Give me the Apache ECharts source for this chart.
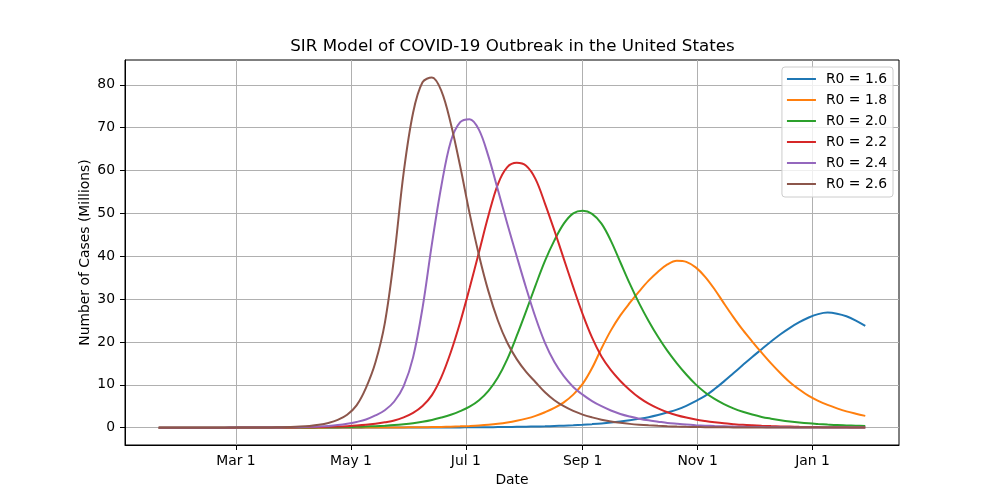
<!DOCTYPE html>
<html><head><meta charset="utf-8">
<script src="https://cdn.jsdelivr.net/npm/echarts@6/dist/echarts.min.js"></script>
<style>html,body{margin:0;padding:0;background:#fff}#chart{width:1000px;height:500px}</style>
</head><body><div id="chart"></div>
<script>
// ---- data (millions of active cases, sampled every 5 days from 2020-01-20) ----
const startDate = '2020-01-20';
const stepDays = 5;
const seriesNames = ['R0 = 1.6', 'R0 = 1.8', 'R0 = 2.0', 'R0 = 2.2', 'R0 = 2.4', 'R0 = 2.6'];
const r16 = [0,0,0,0,0,0,0,0,0,0,
  0,0,0,0,0,0,0,0,0,0,
  0,0,0.01,0.012,0.014,0.017,0.02,0.025,0.03,0.035,
  0.04,0.05,0.06,0.075,0.09,0.11,0.13,0.15,0.19,0.22,
  0.27,0.32,0.39,0.47,0.56,0.68,0.82,0.98,1.18,1.42,
  1.7,2.05,2.45,2.95,3.55,4.2,5.1,6.2,7.4,9.0,
  10.8,12.7,14.6,16.5,18.3,20.1,21.8,23.3,24.6,25.7,
  26.5,26.85,26.6,26.0,25.0,23.75];
const r18 = [0,0,0,0,0,0,0,0,0,0,
  0,0,0,0,0,0,0,0,0.005,0.008,
  0.01,0.015,0.02,0.025,0.034,0.045,0.058,0.076,0.1,0.13,
  0.17,0.23,0.3,0.4,0.52,0.68,0.9,1.2,1.6,2.1,
  2.75,3.6,4.6,5.9,7.7,10.2,13.9,18.5,22.7,26.2,
  29.1,31.8,34.3,36.4,38.1,38.95,38.7,37.4,35.2,32.3,
  29.0,25.8,22.8,20.1,17.5,15.0,12.7,10.6,8.9,7.4,
  6.25,5.3,4.5,3.8,3.25,2.75];
const r20 = [0,0,0,0,0,0,0,0,0,0.01,
  0.01,0.012,0.016,0.02,0.03,0.04,0.05,0.065,0.085,0.11,
  0.15,0.2,0.26,0.35,0.46,0.6,0.8,1.05,1.38,1.8,
  2.35,3.0,3.85,4.9,6.4,8.6,11.7,16.0,21.4,27.2,
  33.2,38.9,43.7,47.6,50.0,50.6,49.9,47.6,43.6,38.6,
  33.6,29.0,24.9,21.2,17.9,15.0,12.4,10.1,8.2,6.7,
  5.5,4.5,3.7,3.05,2.5,2.1,1.75,1.45,1.2,1.0,
  0.85,0.72,0.6,0.52,0.44,0.38];
const r22 = [0,0,0,0,0,0,0,0,0,0.01,
  0.01,0.02,0.025,0.035,0.05,0.07,0.095,0.13,0.18,0.25,
  0.35,0.48,0.66,0.92,1.25,1.66,2.4,3.45,5.05,7.6,
  11.8,17.6,24.6,32.6,41.0,49.5,56.8,60.8,61.8,61.1,
  58.0,52.3,46.0,39.4,32.8,26.5,21.0,16.6,13.4,10.9,
  8.8,7.0,5.6,4.5,3.6,2.9,2.35,1.9,1.55,1.25,
  1.0,0.82,0.66,0.54,0.44,0.36,0.29,0.24,0.19,0.16,
  0.13,0.1,0.08,0.07,0.05,0.04];
const r24 = [0,0,0,0,0,0,0,0,0.01,0.01,
  0.015,0.02,0.035,0.05,0.08,0.12,0.18,0.27,0.4,0.6,
  0.9,1.33,1.9,2.85,4.05,6.1,9.7,16.4,27.9,42.9,
  56.4,66.8,71.3,72.0,69.5,63.3,55.5,47.6,40.0,32.6,
  25.7,19.8,15.3,12.0,9.5,7.7,6.2,5.0,4.0,3.2,
  2.6,2.1,1.7,1.4,1.1,0.9,0.72,0.58,0.47,0.38,
  0.31,0.25,0.2,0.16,0.13,0.1,0.08,0.07,0.05,0.04,
  0.03,0.03,0.02,0.02,0.01,0.01];
const r26 = [0,0,0,0,0,0,0,0,0.01,0.01,
  0.02,0.03,0.05,0.09,0.15,0.25,0.41,0.67,1.1,1.8,
  3.0,5.2,9.3,15.2,24.4,40,59.5,73.5,80.6,81.7,
  78.6,71.0,61.0,50.0,40.2,31.8,25.0,19.8,16.0,13.0,
  10.6,8.25,6.4,5.0,3.9,3.05,2.4,1.85,1.45,1.13,
  0.88,0.69,0.54,0.42,0.33,0.26,0.2,0.16,0.12,0.1,
  0.08,0.06,0.05,0.04,0.03,0.03,0.02,0.02,0.01,0.01,
  0.01,0.01,0.01,0.01,0.01,0.01];
const xTickDates = ['2020-03-01', '2020-05-01', '2020-07-01', '2020-09-01', '2020-11-01', '2021-01-01'];
const xTickLabels = ['Mar 1', 'May 1', 'Jul 1', 'Sep 1', 'Nov 1', 'Jan 1'];
const yTicks = [0, 10, 20, 30, 40, 50, 60, 70, 80];
const colors = ['#1f77b4', '#ff7f0e', '#2ca02c', '#d62728', '#9467bd', '#8c564b'];

// ---- build (x measured in days since startDate) ----
const DAY = 86400000;
const t0 = Date.parse(startDate + 'T00:00:00Z');
const allSeries = [r16, r18, r20, r22, r24, r26];
const xs = r16.map((_, i) => i * stepDays);
const tickDays = xTickDates.map(s => Math.round((Date.parse(s + 'T00:00:00Z') - t0) / DAY));
const pad = 17.9;
const xMin = xs[0] - pad, xMax = xs[xs.length - 1] + pad;
const FONT = 'DejaVu Sans';

const chart = echarts.init(document.getElementById('chart'), null, {renderer: 'canvas'});
chart.setOption({
  animation: false,
  backgroundColor: '#ffffff',
  color: colors,
  title: {
    text: 'SIR Model of COVID-19 Outbreak in the United States',
    left: 512.5, textAlign: 'center', top: 38, padding: 0,
    textStyle: {fontFamily: FONT, fontSize: 16.7, fontWeight: 'normal', color: '#000'}
  },
  grid: {left: 125, right: 101, top: 60, bottom: 55, show: true, borderColor: '#000', borderWidth: 1, backgroundColor: 'transparent'},
  legend: {
    orient: 'vertical', right: 107, top: 67,
    padding: [4, 6, 5, 5], itemGap: 5, itemWidth: 29, itemHeight: 2, icon: 'rect',
    backgroundColor: 'rgba(255,255,255,0.8)', borderColor: '#cccccc', borderWidth: 1, borderRadius: 3,
    textStyle: {fontFamily: FONT, fontSize: 13.9, color: '#000', lineHeight: 16, padding: [0, 0, 0, 5]},
    data: seriesNames
  },
  xAxis: {
    type: 'value', min: xMin, max: xMax,
    name: 'Date', nameLocation: 'middle', nameGap: 28,
    nameTextStyle: {fontFamily: FONT, fontSize: 13.9, color: '#000'},
    axisLine: {show: true, onZero: false, lineStyle: {color: '#000', width: 1}},
    axisTick: {show: true, length: 5, inside: false, customValues: tickDays, lineStyle: {color: '#000', width: 1}},
    axisLabel: {
      customValues: tickDays, margin: 9, fontFamily: FONT, fontSize: 13.9, color: '#000',
      formatter: function (v) { const i = tickDays.indexOf(Math.round(v)); return i >= 0 ? xTickLabels[i] : ''; }
    },
    splitLine: {show: true, lineStyle: {color: '#b0b0b0', width: 1}},
    minorTick: {show: false}
  },
  yAxis: {
    type: 'value', min: -4.05, max: 85.8,
    name: 'Number of Cases (Millions)', nameLocation: 'middle', nameGap: 33, nameRotate: 90,
    nameMoveOverlap: false,
    nameTextStyle: {fontFamily: FONT, fontSize: 13.9, color: '#000'},
    axisLine: {show: true, onZero: false, lineStyle: {color: '#000', width: 1}},
    axisTick: {show: true, length: 5, inside: false, customValues: yTicks, lineStyle: {color: '#000', width: 1}},
    axisLabel: {customValues: yTicks, margin: 10, fontFamily: FONT, fontSize: 13.9, color: '#000'},
    splitLine: {show: true, lineStyle: {color: '#b0b0b0', width: 1}}
  },
  series: allSeries.map((vals, k) => ({
    name: seriesNames[k], type: 'line', showSymbol: false, symbol: 'none',
    smooth: 0.35,
    lineStyle: {width: 2, color: colors[k]}, itemStyle: {color: colors[k]},
    emphasis: {disabled: true},
    data: vals.map((v, i) => [xs[i], v])
  }))
});
</script>
</body></html>
